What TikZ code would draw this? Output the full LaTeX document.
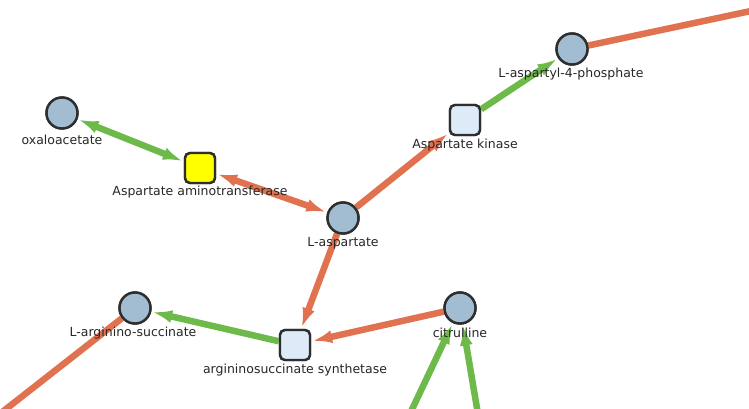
\documentclass[tikz,border=0pt]{standalone}
\usepackage{fontspec}
\setmainfont{DejaVu Sans}
\usetikzlibrary{arrows.meta}
\definecolor{redge}{HTML}{E0724F}
\definecolor{gedge}{HTML}{6DB94A}
\definecolor{metfill}{HTML}{A2BDD2}
\definecolor{enzfill}{HTML}{DDEBF8}
\definecolor{enzyel}{HTML}{FFFF00}
\definecolor{bord}{HTML}{2E2E2E}
\tikzset{
  met/.style={circle,draw=bord,line width=2.4pt,fill=metfill,minimum size=31pt,inner sep=0pt},
  enz/.style={rectangle,rounded corners=5pt,draw=bord,line width=2.4pt,fill=enzfill,minimum size=30pt,inner sep=0pt},
  lab/.style={font=\fontsize{12.5}{14}\selectfont,text=black!85,inner sep=0pt},
  tip/.style={-{Latex[length=20pt,width=13pt]}},
  tips/.style={{Latex[length=20pt,width=13pt]}-{Latex[length=20pt,width=13pt]}},
  red/.style={draw=redge,line width=6.5pt},
  grn/.style={draw=gedge,line width=6.5pt}
}
\begin{document}
\begin{tikzpicture}[x=1pt,y=-1pt]
\useasboundingbox (0,0) rectangle (749,409);
\clip (0,0) rectangle (749,409);
% nodes
\node[met] (oxa) at (62,113) {};
\node[enz,fill=enzyel] (aat) at (200,168) {};
\node[met] (asp) at (343,218) {};
\node[enz] (ak) at (465,120) {};
\node[met] (a4p) at (572,49) {};
\node[met] (ars) at (135,308) {};
\node[enz] (ass) at (295,345) {};
\node[met] (cit) at (460,308) {};
\coordinate (ne) at (765,8);
\coordinate (sw) at (-8,420);
\coordinate (b1) at (407,420);
\coordinate (b2) at (479,420);
% edges
\draw[grn,tips,shorten <=1pt,shorten >=1pt] (oxa) -- (aat);
\draw[red,tips,shorten <=1pt,shorten >=1pt] (aat) -- (asp);
\draw[red,tip,shorten >=1pt] (asp) -- (ak);
\draw[grn,tip,shorten >=1pt] (ak) -- (a4p);
\draw[red] (a4p) -- (ne);
\draw[red,tip,shorten >=1pt] (asp) -- (ass);
\draw[red,tip,shorten >=1pt] (cit) -- (ass);
\draw[grn,tip,shorten >=1pt] (ass) -- (ars);
\draw[red] (ars) -- (sw);
\draw[grn,tip,shorten >=1pt] (b1) -- (cit);
\draw[grn,tip,shorten >=1pt] (b2) -- (cit);
% redraw nodes on top
\node[met] at (oxa) {};
\node[enz,fill=enzyel] at (aat) {};
\node[met] at (asp) {};
\node[enz] at (ak) {};
\node[met] at (a4p) {};
\node[met] at (ars) {};
\node[enz] at (ass) {};
\node[met] at (cit) {};
% labels
\node[lab] (loxa) at (62,140) {oxaloacetate};
\node[lab] (laat) at (200,192) {Aspartate aminotransferase};
\node[lab] (lasp) at (343,243) {L-aspartate};
\node[lab] (lak) at (465,145) {Aspartate kinase};
\node[lab] (la4p) at (571,74) {L-aspartyl-4-phosphate};
\node[lab] (lars) at (133,333) {L-arginino-succinate};
\node[lab] (lass) at (295,370) {argininosuccinate synthetase};
\node[lab] (lcit) at (460,333) {citrulline};
\end{tikzpicture}
\end{document}
